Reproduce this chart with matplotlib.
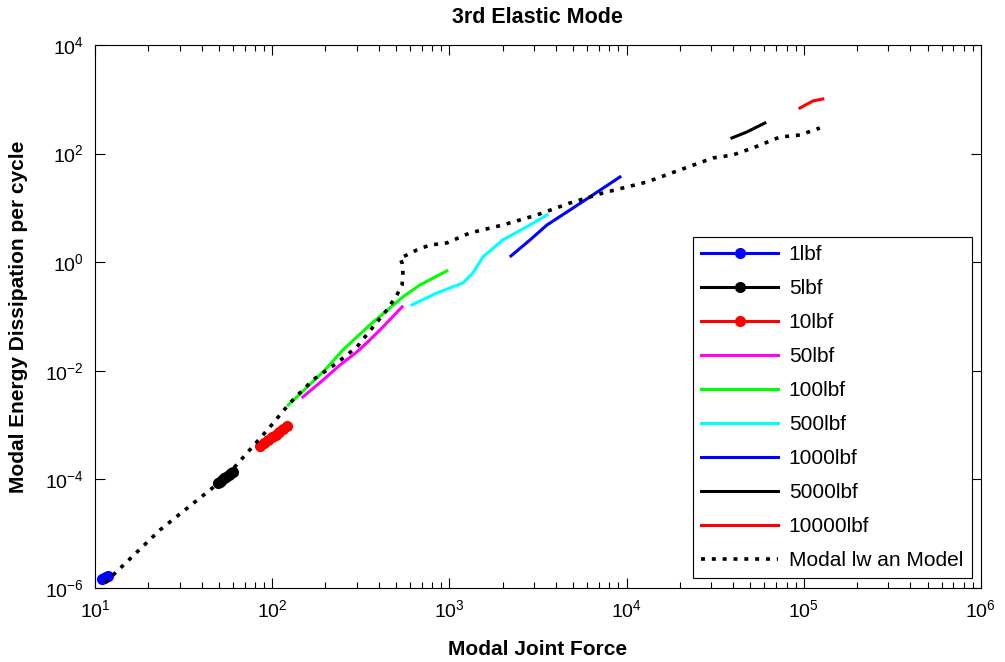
"""
3rd elastic mode: modal energy dissipation vs modal joint force
Run: python plot.py
"""

import matplotlib
matplotlib.use('Agg')
import matplotlib.pyplot as plt
from matplotlib.ticker import LogLocator, NullFormatter

# values (force, energy per cycle)
f_1lbf = [11.0, 11.3, 11.6, 11.8]
e_1lbf = [1.45e-6, 1.52e-6, 1.60e-6, 1.65e-6]

f_5lbf = [49.5, 50.8, 52.2, 53.7, 55.2, 56.8, 58.3, 60.0]
e_5lbf = [8.6e-5, 9.1e-5, 9.8e-5, 1.05e-4, 1.12e-4, 1.20e-4, 1.29e-4, 1.37e-4]

f_10lbf = [85, 90, 95, 100, 105, 110, 115, 121]
e_10lbf = [4.1e-4, 4.7e-4, 5.3e-4, 5.9e-4, 6.6e-4, 7.5e-4, 8.5e-4, 9.6e-4]

f_50lbf = [149, 194, 242, 301, 356, 422, 541]
e_50lbf = [3.29e-3, 6.78e-3, 1.28e-2, 2.22e-2, 3.69e-2, 6.41e-2, 0.150]

f_100lbf = [123, 138, 199, 251, 356, 547, 682, 968]
e_100lbf = [2.34e-3, 3.29e-3, 1.04e-2, 2.42e-2, 6.97e-2, 0.229, 0.380, 0.689]

f_500lbf = [615, 851, 1194, 1358, 1549, 2004, 2851, 3556]
e_500lbf = [0.163, 0.271, 0.414, 0.632, 1.25, 2.56, 4.84, 7.40]

f_1000lbf = [2228, 2851, 3556, 4797, 6209, 9183]
e_1000lbf = [1.30, 2.56, 4.84, 9.14, 15.9, 37.1]

f_5000lbf = [39360, 47750, 60390]
e_5000lbf = [194, 250, 366]

f_10000lbf = [95280, 112700, 128200]
e_10000lbf = [692, 931, 1014]

f_model = [11.4, 23.3, 54.2, 97.3, 126, 170, 232, 301, 371, 445, 506,
           541, 547, 541, 526, 577, 656, 778, 968, 1306, 2004, 3119,
           4797, 7362, 13030, 20000, 30760, 39810, 51640, 73450, 95280,
           123300]
e_model = [1.24e-6, 1.17e-5, 1.06e-4, 9.23e-4, 2.55e-3, 6.78e-3, 1.39e-2,
           2.74e-2, 6.41e-2, 0.132, 0.249, 0.380, 0.633, 0.966, 1.19, 1.36,
           1.68, 2.07, 2.26, 3.45, 4.84, 7.40, 12.3, 18.8, 30.0, 49.9, 83.0,
           94.2, 127, 202, 220, 296]

labels = ['1lbf', '5lbf', '10lbf', '50lbf', '100lbf', '500lbf',
          '1000lbf', '5000lbf', '10000lbf']

plt.rcParams['font.family'] = ['Liberation Sans', 'DejaVu Sans']
plt.rcParams['mathtext.fontset'] = 'custom'
plt.rcParams['mathtext.rm'] = 'Liberation Sans'
plt.rcParams['axes.unicode_minus'] = False

fig = plt.figure(figsize=(10.05, 6.62), dpi=100)
ax = fig.add_axes([0.0945, 0.112, 0.8815, 0.820])

lw = 2.2
ax.plot(f_1lbf, e_1lbf, '-o', color='#0000ff', lw=lw, ms=7, label=labels[0])
ax.plot(f_5lbf, e_5lbf, '-o', color='black', lw=lw, ms=7, label=labels[1])
ax.plot(f_10lbf, e_10lbf, '-o', color='#ff0000', lw=lw, ms=7, label=labels[2])
ax.plot(f_50lbf, e_50lbf, '-', color='#ff00ff', lw=lw, label=labels[3])
ax.plot(f_100lbf, e_100lbf, '-', color='#00ff00', lw=lw, label=labels[4])
ax.plot(f_500lbf, e_500lbf, '-', color='#00ffff', lw=lw, label=labels[5])
ax.plot(f_1000lbf, e_1000lbf, '-', color='#0000ff', lw=lw, label=labels[6])
ax.plot(f_5000lbf, e_5000lbf, '-', color='black', lw=lw, label=labels[7])
ax.plot(f_10000lbf, e_10000lbf, '-', color='#ff0000', lw=lw, label=labels[8])
ax.plot(f_model, e_model, color='black', lw=2.6, ls=(0, (1.1, 1.9)),
        label='Modal lw an Model', zorder=5)

ax.set_xscale('log')
ax.set_yscale('log')
ax.set_xlim(10, 1e6)
ax.set_ylim(1e-6, 1e4)
ax.set_yticks([1e-6, 1e-4, 1e-2, 1e0, 1e2, 1e4])
ax.yaxis.set_minor_locator(LogLocator(base=10, subs=[]))
ax.xaxis.set_minor_locator(LogLocator(base=10, subs=range(2, 10)))
ax.xaxis.set_minor_formatter(NullFormatter())

ax.tick_params(which='both', direction='in', top=True, right=True,
               labelsize=14, pad=8)
ax.tick_params(which='major', length=7, width=0.8)
ax.tick_params(which='minor', length=4, width=0.8)

ax.set_xlabel('Modal Joint Force', fontsize=15, fontweight='bold',
              labelpad=14)
ax.set_ylabel('Modal Energy Dissipation per cycle', fontsize=15,
              fontweight='bold', labelpad=12)
ax.set_title('3rd Elastic Mode', fontsize=15.5, fontweight='bold', pad=16)

leg = ax.legend(loc='lower right', fontsize=15, handlelength=3.7,
                handletextpad=0.5, labelspacing=0.72, borderaxespad=0.45,
                fancybox=False, framealpha=1, edgecolor='black')
leg.get_frame().set_linewidth(0.8)

plt.savefig('out.png', dpi=100)
plt.close()
